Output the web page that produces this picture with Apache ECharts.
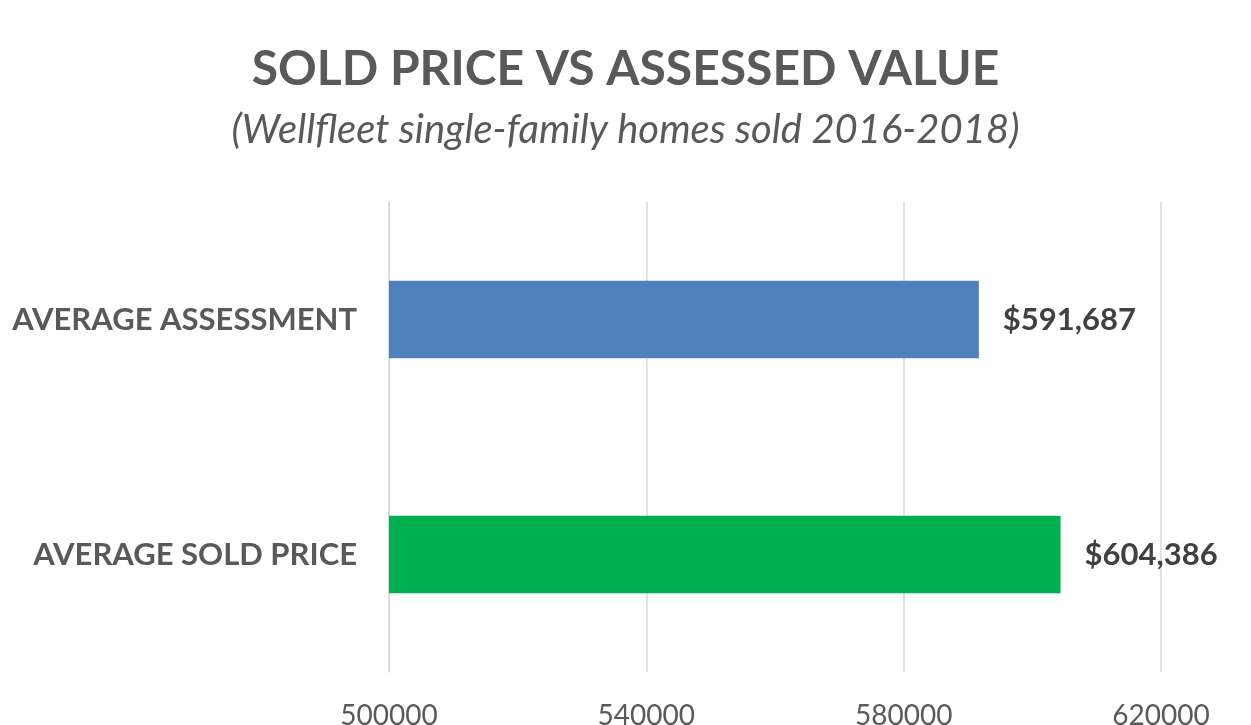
<!DOCTYPE html>
<html>
<head>
<meta charset="utf-8">
<script src="https://cdn.jsdelivr.net/npm/echarts@6/dist/echarts.min.js"></script>
<style>
  html, body { margin: 0; padding: 0; background: #fff; }
  #main { width: 1251px; height: 725px; }
</style>
</head>
<body>
<div id="main"></div>
<script>
var categories = ['AVERAGE SOLD PRICE', 'AVERAGE ASSESSMENT'];
var values = [604386, 591687];
var barColors = ['#00B050', '#4F81BD'];
var tickMin = 500000;
var tickMax = 620000;
var tickStep = 40000;

var chart = echarts.init(document.getElementById('main'));
var option = {
    backgroundColor: '#fff',
    title: {
        text: 'SOLD PRICE VS ASSESSED VALUE',
        subtext: '(Wellfleet single-family homes sold 2016-2018)',
        left: 'center',
        top: 41,
        itemGap: 16,
        textStyle: { fontFamily: 'Lato', fontWeight: 'bold', fontSize: 48, color: '#595959' },
        subtextStyle: { fontFamily: 'Lato', fontStyle: 'italic', fontSize: 40, color: '#595959' }
    },
    grid: { left: 389, right: 90, top: 202, bottom: 53, containLabel: false, outerBoundsMode: 'none' },
    xAxis: {
        type: 'value',
        min: tickMin,
        max: tickMax,
        interval: tickStep,
        axisLine: { show: false },
        axisTick: { show: false },
        splitLine: { lineStyle: { color: '#d9d9d9', width: 1.5 } },
        axisLabel: {
            fontFamily: 'Lato', fontSize: 28, color: '#595959', margin: 30,
            formatter: function (v) { return String(v); }
        }
    },
    yAxis: {
        type: 'category',
        data: categories,
        axisLine: { show: true, lineStyle: { color: '#d9d9d9', width: 1.5 } },
        axisTick: { show: false },
        axisLabel: { fontFamily: 'Lato', fontWeight: 'bold', fontSize: 31, color: '#595959', margin: 32 }
    },
    series: [{
        type: 'bar',
        barWidth: '33%',
        data: values.map(function (v, i) {
            return { value: v, itemStyle: { color: barColors[i] } };
        }),
        label: {
            show: true,
            position: 'right',
            distance: 24,
            fontFamily: 'Lato',
            fontWeight: 'bold',
            fontSize: 31,
            color: '#404040',
            formatter: function (p) {
                return '$' + p.value.toLocaleString('en-US');
            }
        }
    }]
};
chart.setOption(option);
</script>
</body>
</html>
